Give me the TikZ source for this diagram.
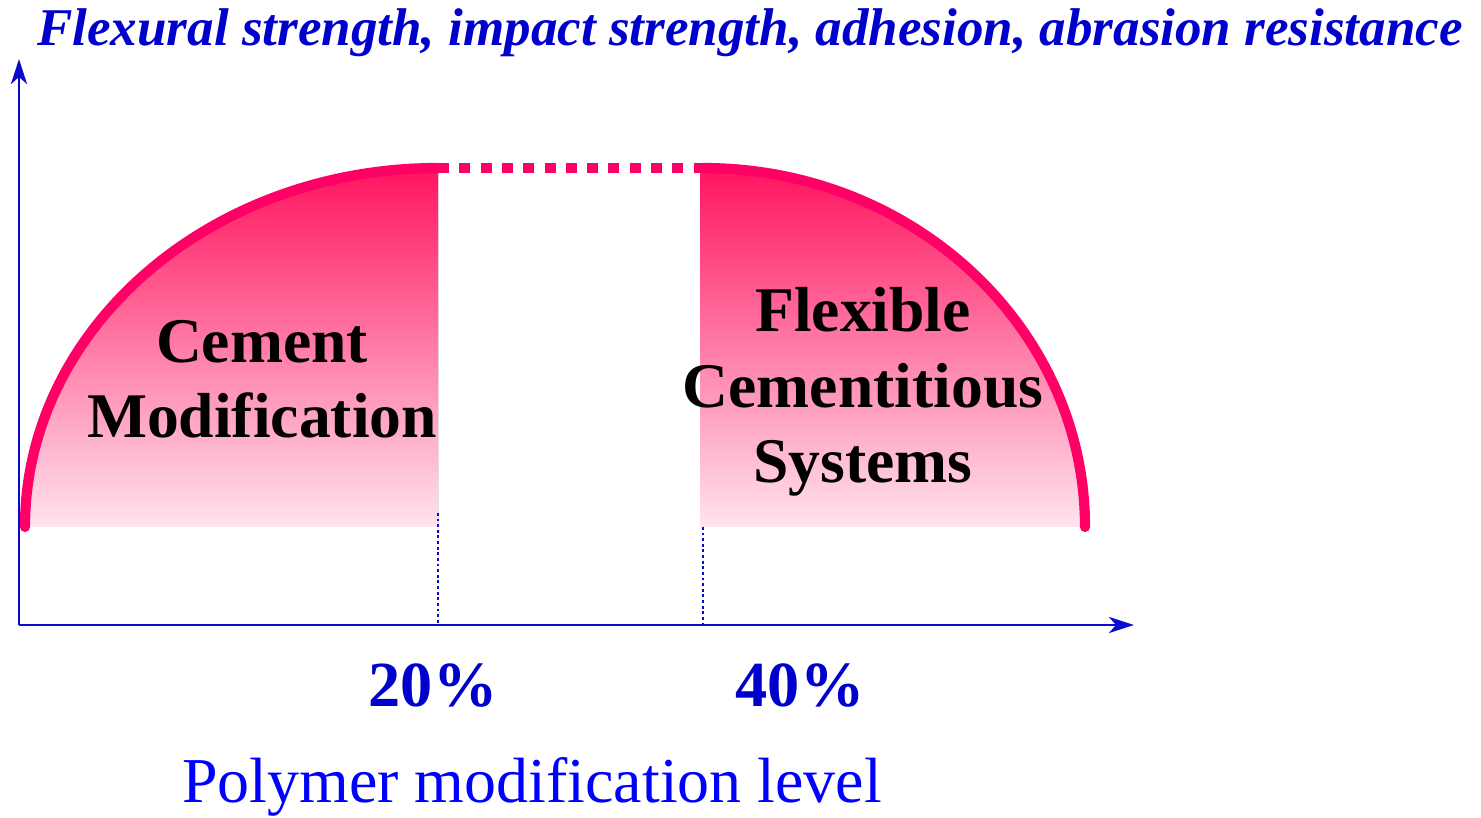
\documentclass[tikz,border=0pt]{standalone}
\usepackage{fontspec}
\setmainfont{Liberation Serif}
\definecolor{axisblue}{RGB}{10,10,205}
\definecolor{titleblue}{RGB}{0,0,204}
\definecolor{levelblue}{RGB}{0,0,255}
\definecolor{hotpink}{RGB}{255,0,102}
\definecolor{deeppink}{RGB}{255,20,95}
\definecolor{midpink}{RGB}{255,140,170}
\definecolor{palepink}{RGB}{255,228,238}
\usetikzlibrary{arrows.meta}

\begin{document}
\begin{tikzpicture}[
  axis/.style={line width=0.85pt, color=axisblue, -{Stealth[length=0.25cm, width=0.16cm, inset=0.07cm]}},
  guide/.style={line width=0.6pt, color=axisblue, dash pattern=on 0.8pt off 0.8pt},
  curve/.style={line width=2.9pt, color=hotpink},
  region/.style={top color=deeppink, middle color=midpink, bottom color=palepink, draw=none},
  zone/.style={font=\fontsize{18.1}{21.4}\selectfont\bfseries, align=center, inner sep=0pt},
  level/.style={font=\fontsize{18.3}{20}\selectfont\bfseries, color=titleblue, anchor=base}
]
  \useasboundingbox (0,0) rectangle (14.81,8.17);
  %% 1. Shaded regions
  \fill[region] (0.25,2.90) arc[start angle=180, end angle=90, x radius=4.13, y radius=3.59]
    -- (4.38,2.90) -- cycle;
  \fill[region] (7.00,2.90) -- (7.00,6.49) -- (7.03,6.49)
    arc[start angle=90, end angle=0, x radius=3.82, y radius=3.59] -- cycle;
  %% 2. Curves
  \coordinate (Lend) at (0.25,2.90);
  \coordinate (Ltop) at (4.38,6.49);
  \coordinate (Rtop) at (7.03,6.49);
  \draw[curve, line cap=round] (Ltop) arc[start angle=90, end angle=180, x radius=4.13, y radius=3.59];
  \draw[curve, line cap=round] (Rtop) arc[start angle=90, end angle=0, x radius=3.82, y radius=3.59];
  \draw[curve, dash pattern=on 0.11cm off 0.103cm] (Ltop) -- (Rtop);
  %% 3. Axes
  \coordinate (O) at (0.19,1.92);
  \coordinate (Ytip) at (0.19,7.58);
  \coordinate (Xtip) at (11.34,1.92);
  \draw[axis] (O) -- (Ytip);
  \draw[axis] (O) -- (Xtip);
  \coordinate (g20) at (4.38,3.04);
  \coordinate (g20b) at (4.38,1.92);
  \coordinate (g40) at (7.03,2.90);
  \coordinate (g40b) at (7.03,1.92);
  \draw[guide] (g20) -- (g20b);
  \draw[guide] (g40) -- (g40b);
  %% 4. Labels
  \node[anchor=base, color=titleblue, font=\fontsize{15.1}{18}\selectfont\bfseries\itshape] (title) at (7.50,7.71)
    {Flexural strength, impact strength, adhesion, abrasion resistance};
  \node[zone] (cement) at (2.62,4.38) {Cement\\Modification};
  \node[zone] (flexible) at (8.63,4.25) {Flexible\\Cementitious\\Systems};
  \node[level] (p20) at (4.33,1.10) {20\%};
  \node[level] (p40) at (8.00,1.10) {40\%};
  \node[anchor=base, color=levelblue, font=\fontsize{18.2}{20}\selectfont] (xlabel) at (5.32,0.14)
    {Polymer modification level};
\end{tikzpicture}
\end{document}
